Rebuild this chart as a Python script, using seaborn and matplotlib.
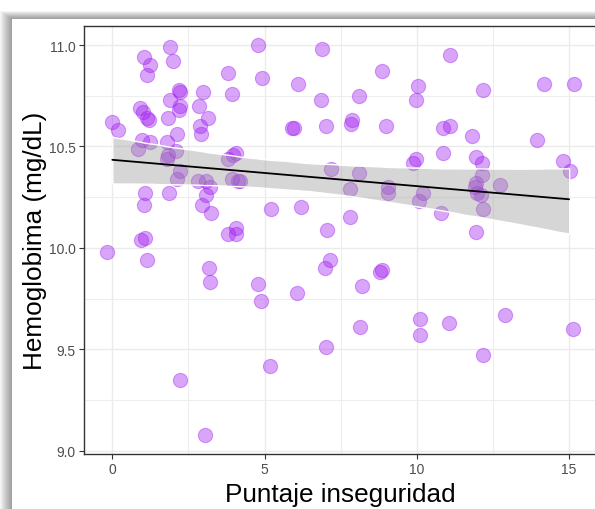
import numpy as np
import pandas as pd
import matplotlib
matplotlib.use("Agg")
import matplotlib.pyplot as plt
import seaborn as sns
from matplotlib.patches import Rectangle
from matplotlib.ticker import MultipleLocator, FormatStrFormatter
from matplotlib.collections import PolyCollection

# ---- data (x shown jittered) ----
puntaje = [-0.16, 0.00, 0.18, 1.05, 1.23, 1.14, 0.91, 1.02, 1.14, 1.20,
           0.98, 1.24, 0.83, 1.06, 1.04, 0.93, 1.07, 1.13, 1.90, 2.00,
           2.19, 2.22, 1.90, 2.22, 2.20, 1.84, 2.11, 1.79, 2.08, 1.84,
           1.79, 2.22, 2.11, 1.86, 3.17, 3.20, 4.77, 4.87, 2.21, 3.03,
           4.78, 3.81, 3.92, 2.99, 2.86, 3.15, 2.88, 2.91, 4.92, 4.05,
           3.81, 2.82, 3.08, 3.21, 3.08, 2.96, 3.23, 3.92, 4.14, 4.05,
           3.81, 4.05, 6.88, 6.11, 8.84, 6.84, 8.10, 5.89, 5.95, 7.00,
           7.86, 7.83, 8.98, 3.95, 7.18, 8.11, 7.80, 9.06, 9.06, 4.19,
           5.21, 6.19, 7.80, 7.06, 7.15, 6.98, 8.84, 8.79, 6.07, 8.21,
           8.14, 7.00, 5.18, 11.09, 10.05, 9.96, 12.16, 14.18, 15.17, 10.87,
           11.09, 11.80, 13.93, 10.85, 9.96, 9.86, 11.94, 12.15, 12.13, 14.79,
           15.03, 11.94, 11.91, 12.73, 10.19, 10.07, 11.96, 12.10, 12.16, 10.78,
           11.94, 10.10, 10.10, 11.05, 12.89, 12.16, 15.13]
hemoglobina = [9.98, 10.62, 10.58, 10.94, 10.90, 10.85, 10.69, 10.67, 10.64, 10.63,
               10.53, 10.52, 10.49, 10.27, 10.21, 10.04, 10.05, 9.94, 10.99, 10.92,
               10.78, 10.77, 10.73, 10.70, 10.68, 10.64, 10.56, 10.52, 10.48, 10.46,
               10.44, 10.38, 10.34, 10.27, 9.90, 9.83, 9.82, 9.74, 9.35, 9.08,
               11.00, 10.86, 10.76, 10.77, 10.70, 10.64, 10.60, 10.56, 10.84, 10.47,
               10.44, 10.33, 10.33, 10.30, 10.26, 10.21, 10.17, 10.34, 10.33, 10.10,
               10.07, 10.07, 10.98, 10.81, 10.87, 10.73, 10.75, 10.59, 10.59, 10.60,
               10.63, 10.61, 10.60, 10.46, 10.39, 10.37, 10.29, 10.30, 10.27, 10.33,
               10.19, 10.20, 10.15, 10.09, 9.94, 9.90, 9.89, 9.88, 9.78, 9.81,
               9.61, 9.51, 9.42, 10.95, 10.80, 10.73, 10.78, 10.81, 10.81, 10.59,
               10.60, 10.55, 10.53, 10.47, 10.44, 10.42, 10.45, 10.42, 10.36, 10.43,
               10.38, 10.32, 10.30, 10.31, 10.27, 10.23, 10.27, 10.26, 10.19, 10.17,
               10.08, 9.65, 9.57, 9.63, 9.67, 9.47, 9.60]
x_ticks = [0, 5, 10, 15]
y_ticks = [9.0, 9.5, 10.0, 10.5, 11.0]
x_title = "Puntaje inseguridad"
y_title = "Hemoglobima (mg/dL)"

df = pd.DataFrame({"puntaje": puntaje, "hb": hemoglobina})
df["puntaje_int"] = df["puntaje"].round()

sns.set_theme(style="white")
plt.rcParams['font.family'] = ['Liberation Sans', 'DejaVu Sans']

W, H = 595, 510
fig = plt.figure(figsize=(W / 100, H / 100), dpi=100)
fig.patch.set_facecolor("white")

def fx(px):
    return px / W

def fy(py):
    return 1 - py / H

# card shadow
n = 12
for i in range(1, n + 1):
    l = 12 - i
    t = 20 - i * 8 / n
    fig.add_artist(Rectangle((fx(l), 0), 1.1, fy(t), transform=fig.transFigure,
                             facecolor="black", alpha=0.035, edgecolor="none", zorder=0))
fig.add_artist(Rectangle((fx(12), 0), 1.1, fy(20), transform=fig.transFigure,
                         facecolor="white", edgecolor="none", zorder=0.5))

ax = fig.add_axes([fx(84.3), fy(455), (599 - 84.3) / W, (455 - 27) / H])
ax.set_zorder(2)
ax.set_facecolor("white")

sns.scatterplot(data=df, x="puntaje", y="hb", color="#A020F0", alpha=0.4, s=105,
                edgecolor="#A020F0", linewidth=0.8, ax=ax, zorder=2, legend=False)
sns.regplot(data=df, x="puntaje_int", y="hb", scatter=False, color="black", ci=95,
            n_boot=2000, seed=3, line_kws=dict(lw=1.3, zorder=4), ax=ax)
for c in ax.collections:
    if isinstance(c, PolyCollection):
        c.set_alpha(None)
        c.set_facecolor((0.6, 0.6, 0.6, 0.4))
        c.set_zorder(3)

ax.set_xlim(-0.92, 15.98)
ax.set_ylim(8.984, 11.094)
ax.set_xticks(x_ticks)
ax.set_yticks(y_ticks)
ax.xaxis.set_minor_locator(MultipleLocator(2.5))
ax.yaxis.set_minor_locator(MultipleLocator(0.25))
ax.yaxis.set_major_formatter(FormatStrFormatter("%.1f"))
ax.grid(which="major", color="#EBEBEB", lw=1.0, zorder=0)
ax.grid(which="minor", color="#EEEEEE", lw=0.8, zorder=0)
ax.set_axisbelow(True)

for s in ["left", "bottom", "top", "right"]:
    ax.spines[s].set_visible(True)
    ax.spines[s].set_color("#333333")
    ax.spines[s].set_linewidth(1.0)

ax.tick_params(which="major", bottom=True, left=True, length=3.5, width=0.8,
               color="#333333", labelsize=10, labelcolor="#4D4D4D", pad=2.5,
               direction="out")
ax.tick_params(which="minor", length=0)

ax.set_xlabel(x_title, fontsize=18.8, color="black")
ax.set_ylabel(y_title, fontsize=18.8, color="black")
ax.xaxis.set_label_coords((340 - 84.3) / (599 - 84.3), -0.066)
ax.yaxis.set_label_coords(-0.073, 0.5)

fig.savefig("out.png", dpi=100)
